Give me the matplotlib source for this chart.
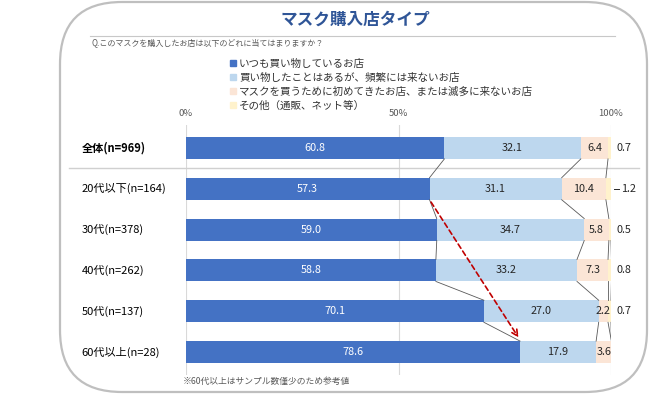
import numpy as np
import matplotlib
matplotlib.use("Agg")
import matplotlib.pyplot as plt
from matplotlib.patches import FancyBboxPatch
from matplotlib.lines import Line2D

plt.rcParams['font.family'] = ['Noto Sans CJK JP', 'DejaVu Sans']

# data
categories = ['全体(n=969)', '20代以下(n=164)', '30代(n=378)', '40代(n=262)',
              '50代(n=137)', '60代以上(n=28)']
regular = [60.8, 57.3, 59.0, 58.8, 70.1, 78.6]
sometimes = [32.1, 31.1, 34.7, 33.2, 27.0, 17.9]
first_time = [6.4, 10.4, 5.8, 7.3, 2.2, 3.6]
other = [0.7, 1.2, 0.5, 0.8, 0.7, 0.0]
series_names = ['いつも買い物しているお店',
                '買い物したことはあるが、頻繁には来ないお店',
                'マスクを買うために初めてきたお店、または滅多に来ないお店',
                'その他（通販、ネット等）']
tick_vals = [0, 50, 100]
tick_labels = ['0%', '50%', '100%']

colors = ['#4472c4', '#bdd7ee', '#fbe5d6', '#fff2cc']
txt_colors = ['white', '#262626', '#262626', '#262626']

fig = plt.figure(figsize=(6.5, 3.95), dpi=100)

# background frame / decorations in pixel coordinates
bg = fig.add_axes([0, 0, 1, 1])
bg.set_xlim(0, 650)
bg.set_ylim(395, 0)
bg.axis('off')
bg.add_patch(FancyBboxPatch((60, 2), 587, 390, boxstyle="round,pad=0,rounding_size=62",
                            fc='white', ec='#bfbfbf', lw=1.6))
bg.text(355, 20, 'マスク購入店タイプ', ha='center', va='center', fontsize=12,
        fontweight='bold', color='#2f5597')
bg.plot([90, 615], [36, 36], color='#c8c8c8', lw=0.8)
bg.text(92, 42.5, 'Q.このマスクを購入したお店は以下のどれに当てはまりますか？', ha='left',
        va='center', fontsize=5.8, color='#595959')
bg.text(183, 381, '※60代以上はサンプル数僅少のため参考値', ha='left', va='center',
        fontsize=6.3, color='#595959')

ax = fig.add_axes([186/650, 1-375/395, 425/650, 250/395])
data = np.array([regular, sometimes, first_time, other])
y = np.arange(len(categories))
h = 0.54
left = np.zeros(len(categories))
cums = []
for k in range(4):
    ax.barh(y, data[k], left=left, height=h, color=colors[k], zorder=2,
            label=series_names[k])
    for i in range(len(categories)):
        v = data[k][i]
        if v <= 0:
            continue
        if k < 3:
            ax.text(left[i] + v/2, y[i], f'{v:.1f}', ha='center', va='center',
                    fontsize=7.8, color=txt_colors[k], zorder=4)
        else:
            if i == 1:
                ax.plot([100.6, 101.8], [y[i], y[i]], color='#262626', lw=0.7,
                        clip_on=False)
                ax.text(102.4, y[i], f'{v:.1f}', ha='left', va='center',
                        fontsize=7.8, color='#262626')
            else:
                ax.text(101.4, y[i], f'{v:.1f}', ha='left', va='center',
                        fontsize=7.8, color='#262626')
    left = left + data[k]
    cums.append(left.copy())

# series lines between bars
for c in cums:
    for i in range(len(categories) - 1):
        ax.plot([c[i], c[i+1]], [y[i] + h/2, y[i+1] - h/2], color='#595959',
                lw=0.6, zorder=3)

# red trend arrow
ax.annotate('', xy=(regular[5], y[5] - h/2 - 0.03), xytext=(regular[1], y[1] + h/2),
            arrowprops=dict(arrowstyle='->', color='#c00000', lw=1.2,
                            linestyle=(0, (3, 2)), mutation_scale=11), zorder=5)

for t in tick_vals:
    ax.axvline(t, color='#d9d9d9', lw=0.8, zorder=1)

ax.set_xlim(0, 100)
ax.set_ylim(len(categories) - 0.44, -0.56)
ax.xaxis.tick_top()
ax.set_xticks(tick_vals)
ax.set_xticklabels(tick_labels, fontsize=6.8, color='#595959')
ax.tick_params(axis='x', length=0, pad=5)
ax.set_yticks([])
for s in ax.spines.values():
    s.set_visible(False)

for i, cat in enumerate(categories):
    ax.text(-24.5, y[i], cat, ha='left', va='center', fontsize=8,
            fontweight='bold' if i == 0 else 'normal', color='black')

ax.plot([-27.5, 106.5], [0.5, 0.5], color='#d0d0d0', lw=1.0, clip_on=False)

handles = [Line2D([], [], marker='s', ls='', markersize=4.5, color=c) for c in colors]
fig.legend(handles, series_names, loc='upper left', bbox_to_anchor=(0.345, 0.865),
           frameon=False, fontsize=7.6, handlelength=0.6, handletextpad=0.3,
           labelspacing=0.38, borderpad=0, labelcolor='#333333')

fig.savefig('out.png', dpi=100)
